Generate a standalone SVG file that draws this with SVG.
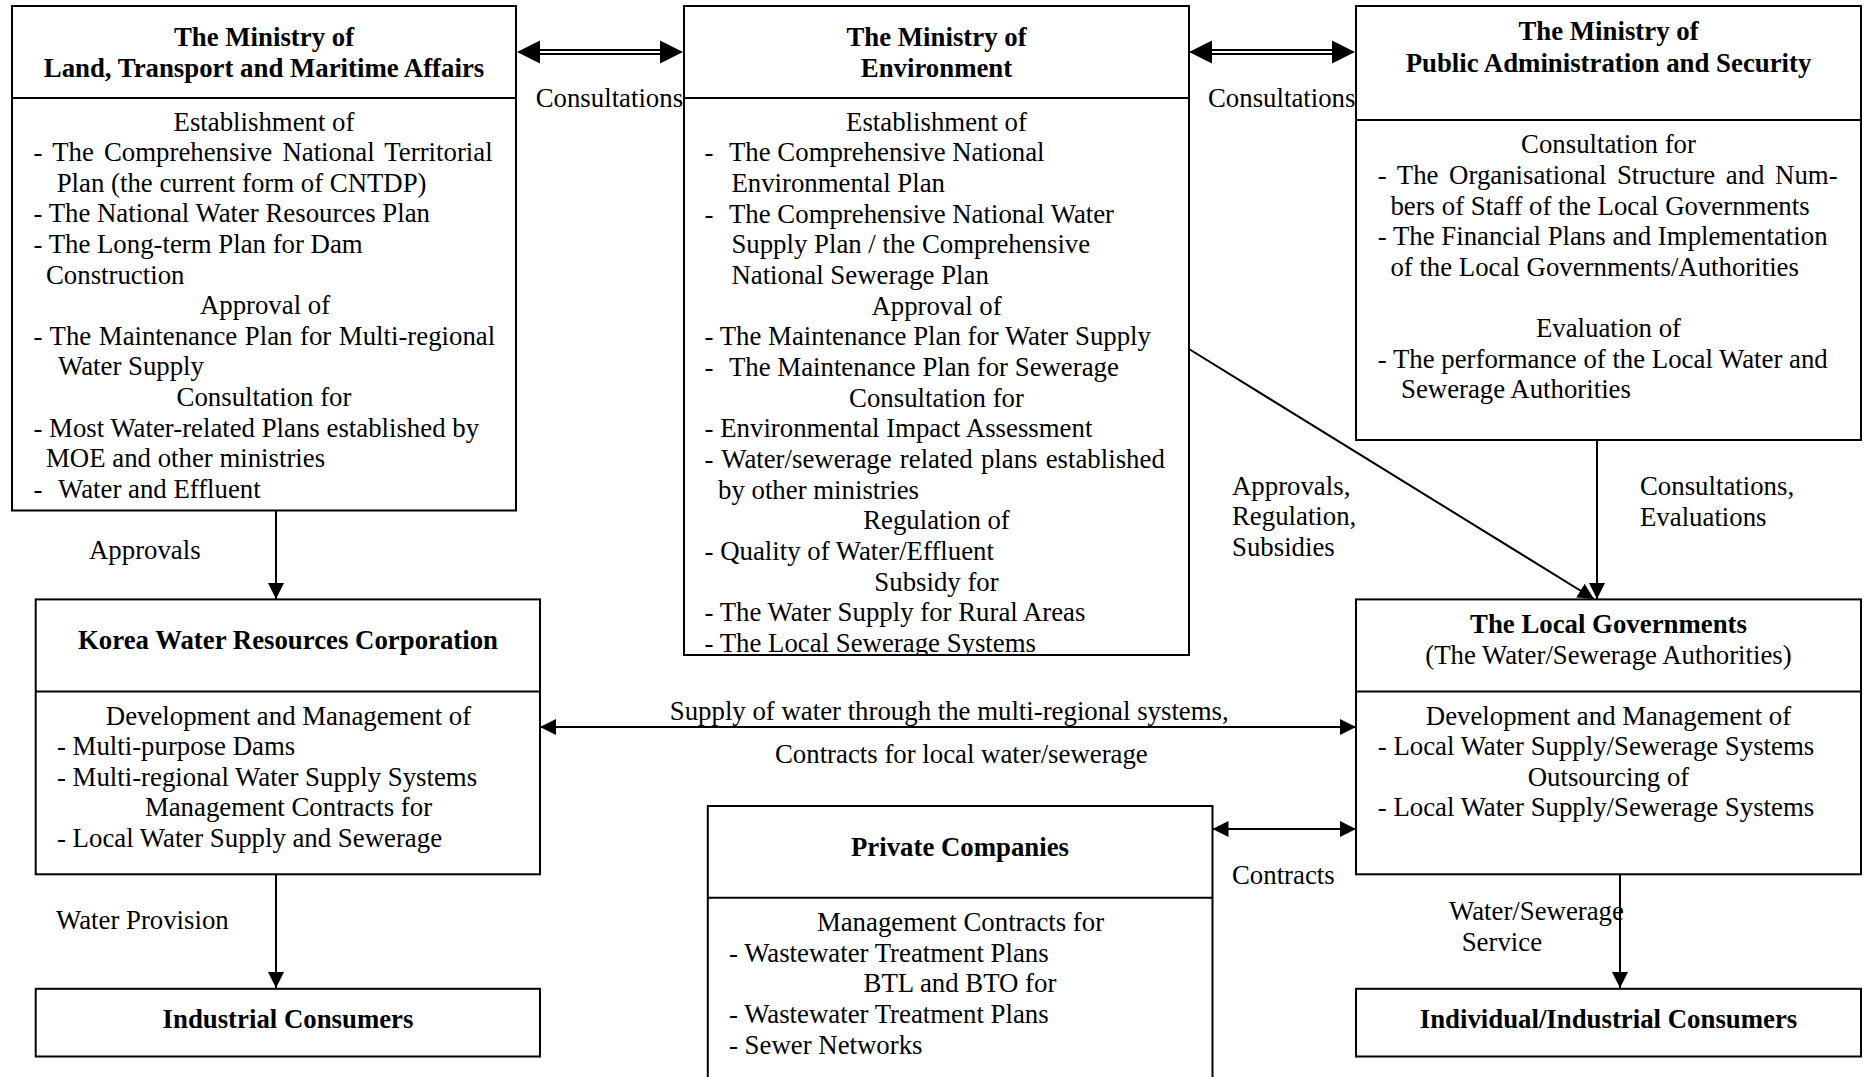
<svg xmlns="http://www.w3.org/2000/svg" width="1867" height="1077" viewBox="0 0 1867 1077">
<style>
.t{font-family:"Liberation Serif","Times New Roman",serif;font-size:26.8px;fill:#000}
.b{font-weight:bold}
.c{text-anchor:middle}
.box{fill:#fff;stroke:#000;stroke-width:2}
.dv{stroke:#000;stroke-width:2}
.ln{stroke:#000;stroke-width:2;fill:none}
.dl{stroke:#000;stroke-width:1.8;fill:none}
.ah{fill:#000}
</style>
<defs>
<marker id="arr" viewBox="0 0 16 16" refX="16" refY="8" markerWidth="16" markerHeight="16" markerUnits="userSpaceOnUse" orient="auto-start-reverse">
<path d="M0,0 L16,8 L0,16 z" fill="#000"/>
</marker>
<clipPath id="clipMOE"><rect x="684" y="98" width="505" height="556"/></clipPath>
</defs>
<rect width="1867" height="1077" fill="#fff"/>

<g id="connectors">
<line class="ln" x1="276" y1="511" x2="276" y2="599" marker-end="url(#arr)"/>
<line class="ln" x1="276" y1="874" x2="276" y2="988" marker-end="url(#arr)"/>
<line class="ln" x1="540" y1="727" x2="1356" y2="727" marker-start="url(#arr)" marker-end="url(#arr)"/>
<line class="ln" x1="1212.5" y1="829" x2="1356" y2="829" marker-start="url(#arr)" marker-end="url(#arr)"/>
<line class="ln" x1="1597" y1="440" x2="1597" y2="599" marker-end="url(#arr)"/>
<line class="ln" x1="1189" y1="349" x2="1594" y2="599" marker-end="url(#arr)"/>
<line class="ln" x1="1620" y1="874" x2="1620" y2="988" marker-end="url(#arr)"/>
<g id="dbl1">
<line class="dl" x1="538" y1="50" x2="662" y2="50"/>
<line class="dl" x1="538" y1="54" x2="662" y2="54"/>
<polygon class="ah" points="517,52 540,40.5 540,63.5"/>
<polygon class="ah" points="683,52 660,40.5 660,63.5"/>
</g>
<g id="dbl2">
<line class="dl" x1="1210" y1="50" x2="1335" y2="50"/>
<line class="dl" x1="1210" y1="54" x2="1335" y2="54"/>
<polygon class="ah" points="1189,52 1212,40.5 1212,63.5"/>
<polygon class="ah" points="1355,52 1332,40.5 1332,63.5"/>
</g>
<g id="labels">
<text class="t" x="535.7" y="107">Consultations</text>
<text class="t" x="1208" y="107">Consultations</text>
<text class="t" x="89" y="559">Approvals</text>
<text class="t" x="56" y="929">Water Provision</text>
<text class="t" x="669.8" y="719.5">Supply of water through the multi-regional systems,</text>
<text class="t" x="775" y="762.7">Contracts for local water/sewerage</text>
<text class="t" x="1232" y="884">Contracts</text>
<text class="t" x="1232" y="494.5">Approvals,</text>
<text class="t" x="1232" y="525.3">Regulation,</text>
<text class="t" x="1232" y="556">Subsidies</text>
<text class="t" x="1640" y="495">Consultations,</text>
<text class="t" x="1640" y="525.8">Evaluations</text>
<text class="t" x="1449" y="919.6">Water/Sewerage</text>
<text class="t" x="1461.7" y="950.8">Service</text>
</g>
</g>

<g id="mltm">
<rect class="box" x="12" y="6" width="504" height="504.5"/>
<line class="dv" x1="12" y1="98" x2="516" y2="98"/>
<text class="t b c" x="264" y="45.5">The Ministry of</text>
<text class="t b c" x="264" y="77">Land, Transport and Maritime Affairs</text>
<text class="t c" x="264" y="130.5">Establishment of</text>
<text class="t" x="33.5" y="161.1" word-spacing="3.5">- The Comprehensive National Territorial</text>
<text class="t" x="56.7" y="191.7">Plan (the current form of CNTDP)</text>
<text class="t" x="33.5" y="222.3">- The National Water Resources Plan</text>
<text class="t" x="33.5" y="252.9">- The Long-term Plan for Dam</text>
<text class="t" x="46" y="283.5">Construction</text>
<text class="t c" x="265" y="314.1">Approval of</text>
<text class="t" x="33.5" y="344.7" word-spacing="0.9">- The Maintenance Plan for Multi-regional</text>
<text class="t" x="58" y="375.3">Water Supply</text>
<text class="t c" x="264" y="405.9">Consultation for</text>
<text class="t" x="33.5" y="436.5">- Most Water-related Plans established by</text>
<text class="t" x="46" y="467.1">MOE and other ministries</text>
<text class="t" y="497.7"><tspan x="33.5">-</tspan><tspan x="58">Water and Effluent</tspan></text>
</g>

<g id="moe">
<rect class="box" x="684" y="6" width="505" height="649"/>
<line class="dv" x1="684" y1="98" x2="1189" y2="98"/>
<text class="t b c" x="936.5" y="45.5">The Ministry of</text>
<text class="t b c" x="936.5" y="77">Environment</text>
<g clip-path="url(#clipMOE)">
<text class="t c" x="936.5" y="130.5">Establishment of</text>
<text class="t" y="161.2"><tspan x="704.6">-</tspan><tspan x="729">The Comprehensive National</tspan></text>
<text class="t" x="731.4" y="191.9">Environmental Plan</text>
<text class="t" y="222.5"><tspan x="704.6">-</tspan><tspan x="729">The Comprehensive National Water</tspan></text>
<text class="t" x="731.4" y="253.2">Supply Plan / the Comprehensive</text>
<text class="t" x="731.4" y="283.9">National Sewerage Plan</text>
<text class="t c" x="936.5" y="314.5">Approval of</text>
<text class="t" x="704.6" y="345.2">- The Maintenance Plan for Water Supply</text>
<text class="t" y="375.9"><tspan x="704.6">-</tspan><tspan x="729">The Maintenance Plan for Sewerage</tspan></text>
<text class="t c" x="936.5" y="406.6">Consultation for</text>
<text class="t" x="704.6" y="437.3">- Environmental Impact Assessment</text>
<text class="t" x="704.6" y="467.9" word-spacing="1.5">- Water/sewerage related plans established</text>
<text class="t" x="718" y="498.6">by other ministries</text>
<text class="t c" x="936.5" y="529.3">Regulation of</text>
<text class="t" x="704.6" y="560">- Quality of Water/Effluent</text>
<text class="t c" x="936.5" y="590.6">Subsidy for</text>
<text class="t" x="704.6" y="621.3">- The Water Supply for Rural Areas</text>
<text class="t" x="704.6" y="652">- The Local Sewerage Systems</text>
</g>
</g>

<g id="mopas">
<rect class="box" x="1356" y="6" width="505" height="434"/>
<line class="dv" x1="1356" y1="120" x2="1861" y2="120"/>
<text class="t b c" x="1608.5" y="39.5">The Ministry of</text>
<text class="t b c" x="1608.5" y="71.5">Public Administration and Security</text>
<text class="t c" x="1608.5" y="153.3">Consultation for</text>
<text class="t" x="1377.8" y="184" word-spacing="3.9">- The Organisational Structure and Num-</text>
<text class="t" x="1390.4" y="214.6">bers of Staff of the Local Governments</text>
<text class="t" x="1377.8" y="245.2">- The Financial Plans and Implementation</text>
<text class="t" x="1390.4" y="275.8">of the Local Governments/Authorities</text>
<text class="t c" x="1608.5" y="337">Evaluation of</text>
<text class="t" x="1377.8" y="367.6">- The performance of the Local Water and</text>
<text class="t" x="1401" y="398.2">Sewerage Authorities</text>
</g>

<g id="kwrc">
<rect class="box" x="35.7" y="599.4" width="504.3" height="274.9"/>
<line class="dv" x1="35.7" y1="691.4" x2="540" y2="691.4"/>
<text class="t b c" x="288" y="649">Korea Water Resources Corporation</text>
<text class="t c" x="288.5" y="724.5">Development and Management of</text>
<text class="t" x="57" y="755">- Multi-purpose Dams</text>
<text class="t" x="57" y="785.5">- Multi-regional Water Supply Systems</text>
<text class="t c" x="288.5" y="816">Management Contracts for</text>
<text class="t" x="57" y="846.5">- Local Water Supply and Sewerage</text>
</g>

<g id="industrial">
<rect class="box" x="35.7" y="988.8" width="504.3" height="67.7"/>
<text class="t b c" x="288" y="1028">Industrial Consumers</text>
</g>

<g id="private">
<rect class="box" x="707.8" y="806" width="504.7" height="300"/>
<line class="dv" x1="707.8" y1="897.8" x2="1212.5" y2="897.8"/>
<text class="t b c" x="960" y="856">Private Companies</text>
<text class="t c" x="960.5" y="931">Management Contracts for</text>
<text class="t" x="729" y="961.7">- Wastewater Treatment Plans</text>
<text class="t c" x="960" y="992.4">BTL and BTO for</text>
<text class="t" x="729" y="1023">- Wastewater Treatment Plans</text>
<text class="t" x="729" y="1053.8">- Sewer Networks</text>
</g>

<g id="localgov">
<rect class="box" x="1356" y="599.4" width="505" height="274.9"/>
<line class="dv" x1="1356" y1="691.4" x2="1861" y2="691.4"/>
<text class="t b c" x="1608.5" y="633.2">The Local Governments</text>
<text class="t c" x="1608.5" y="663.8">(The Water/Sewerage Authorities)</text>
<text class="t c" x="1608.5" y="724.5">Development and Management of</text>
<text class="t" x="1377.8" y="755">- Local Water Supply/Sewerage Systems</text>
<text class="t c" x="1608.5" y="785.5">Outsourcing of</text>
<text class="t" x="1377.8" y="816">- Local Water Supply/Sewerage Systems</text>
</g>

<g id="consumers">
<rect class="box" x="1356" y="988.8" width="505" height="67.7"/>
<text class="t b c" x="1608.5" y="1028">Individual/Industrial Consumers</text>
</g>
</svg>
